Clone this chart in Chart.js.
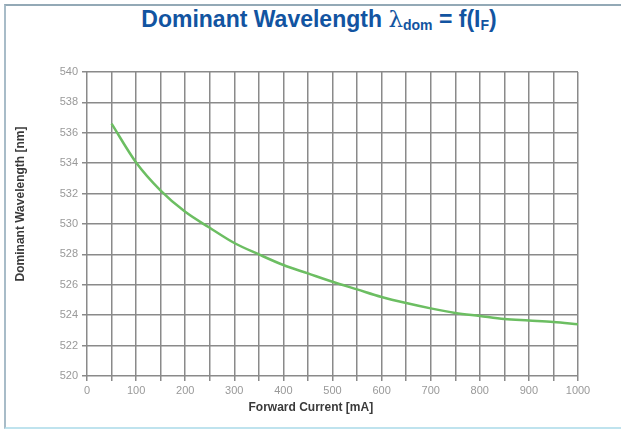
<!DOCTYPE html>
<html>
<head>
    <meta charset="UTF-8">
    <title>Dominant Wavelength</title>
    <style>
        html, body {
            margin: 0;
            padding: 0;
            width: 621px;
            height: 429px;
            overflow: hidden;
            background-color: white;
            font-family: "Liberation Sans", Arial, sans-serif;
        }
        #frame {
            position: absolute;
            left: 4px;
            top: 4px;
            width: 660px;
            height: 425px;
            border-left: 2px solid #a8bcc8;
            border-top: 2px solid #93a9b6;
            border-bottom: 2px solid #bfe3ee;
            box-sizing: border-box;
        }
        h1 {
            position: absolute;
            left: 0;
            top: 6px;
            width: 638px;
            margin: 0;
            text-align: center;
            font-size: 23px;
            font-weight: bold;
            color: #1254a1;
            white-space: nowrap;
        }
        h1 .lam {
            font-family: "DejaVu Serif", "Liberation Serif", serif;
            font-weight: normal;
        }
        h1 sub {
            font-size: 14px;
            vertical-align: -3px;
        }
        #chartBox {
            position: absolute;
            left: 0;
            top: 0;
            width: 621px;
            height: 429px;
        }
    </style>
    <script src="https://cdn.jsdelivr.net/npm/chart.js"></script>
</head>
<body>
<div id="frame"></div>
<h1>Dominant Wavelength <span class="lam">λ</span><sub>dom</sub> = f(I<sub>F</sub>)</h1>
<div id="chartBox">
    <canvas id="lineChart"></canvas>
</div>
<script>
    // forward current [mA] and dominant wavelength [nm]
    const current = [50, 100, 150, 200, 250, 300, 350, 400, 450, 500,
                     550, 600, 650, 700, 750, 800, 850, 900, 950, 1000];
    const wavelength = [536.6, 534.05, 532.2, 530.8, 529.75, 528.75, 528.0, 527.3, 526.75, 526.2,
                        525.7, 525.2, 524.8, 524.45, 524.15, 523.95, 523.75, 523.65, 523.55, 523.4];

    const xLabels = [0, 100, 200, 300, 400, 500, 600, 700, 800, 900, 1000];
    const yLabels = [520, 522, 524, 526, 528, 530, 532, 534, 536, 538, 540];

    const gridColor = '#8a8a8a';
    const tickColor = '#999999';

    const points = [];
    for (let i = 0; i < current.length; i++) {
        points.push({ x: current[i], y: wavelength[i] });
    }

    const config = {
        type: 'line',
        data: {
            datasets: [{
                label: 'Dominant wavelength',
                data: points,
                borderColor: 'rgb(108, 190, 98)',
                borderWidth: 2.5,
                pointRadius: 0,
                fill: false,
                cubicInterpolationMode: 'monotone'
            }]
        },
        options: {
            responsive: false,
            animation: false,
            layout: {
                padding: { left: 10, top: 72, right: 43, bottom: 6 }
            },
            plugins: {
                legend: { display: false },
                tooltip: { enabled: false }
            },
            scales: {
                x: {
                    type: 'linear',
                    min: 0,
                    max: 1000,
                    border: { display: false },
                    grid: { color: gridColor, lineWidth: 1.5, tickLength: 5 },
                    ticks: {
                        stepSize: 50,
                        autoSkip: false,
                        maxRotation: 0,
                        padding: 3,
                        color: tickColor,
                        font: { size: 11, family: 'Liberation Sans' },
                        callback: function (v) { return xLabels.includes(v) ? String(v) : ''; }
                    },
                    title: {
                        display: true,
                        // trailing spaces pull the label a bit left, like the original
                        text: 'Forward Current [mA]             ',
                        color: '#3a3a3a',
                        font: { size: 12, weight: 'bold', family: 'Liberation Sans' },
                        padding: { top: 0, bottom: 8 }
                    },
                    afterFit: function (scale) { scale.height = 47; }
                },
                y: {
                    min: 520,
                    max: 540,
                    border: { display: false },
                    grid: { color: gridColor, lineWidth: 1.5, tickLength: 5 },
                    ticks: {
                        stepSize: 2,
                        autoSkip: false,
                        padding: 4,
                        color: tickColor,
                        font: { size: 11, family: 'Liberation Sans' },
                        callback: function (v) { return yLabels.includes(v) ? String(v) : ''; }
                    },
                    title: {
                        display: true,
                        // leading spaces push the label up the axis as in the original
                        text: '            Dominant Wavelength [nm]',
                        color: '#3a3a3a',
                        font: { size: 12, weight: 'bold', family: 'Liberation Sans' },
                        padding: { top: 3, bottom: 0 }
                    },
                    afterFit: function (scale) { scale.width = 77; }
                }
            }
        }
    };

    const canvas = document.getElementById('lineChart');
    canvas.width = 621;
    canvas.height = 429;
    new Chart(canvas, config);
</script>
</body>
</html>
